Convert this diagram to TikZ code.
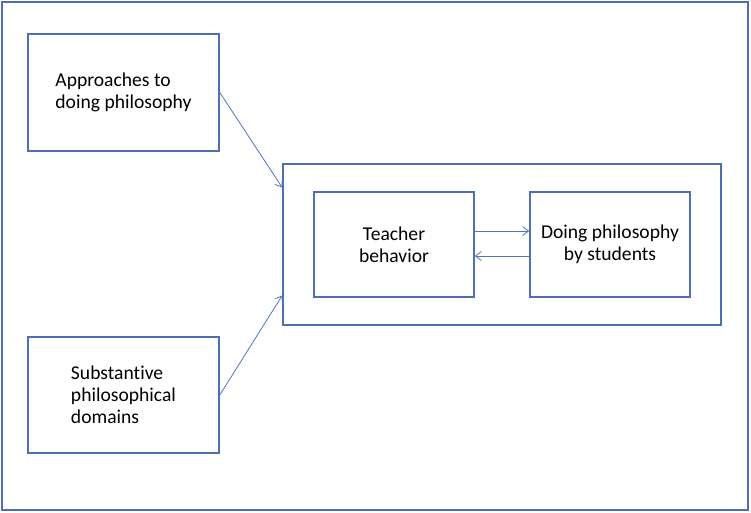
\documentclass[tikz,border=0pt]{standalone}
\usepackage{fontspec}
\setmainfont{Carlito}[Ligatures={NoCommon}]
\usetikzlibrary{arrows.meta}
\definecolor{frameblue}{RGB}{79,111,178}
\definecolor{arrowblue}{RGB}{79,119,189}
\tikzset{
  box/.style={draw=frameblue, line width=1.6pt, rectangle, inner sep=0pt,
    font=\fontsize{19.6}{22}\selectfont},
  link/.style={draw=arrowblue, line width=0.8pt, -{Straight Barb[length=6pt,width=9pt]}}
}
\begin{document}
\begin{tikzpicture}[x=1pt,y=-1pt]
\useasboundingbox (0,0) rectangle (751,513);
\fill[white] (0,0) rectangle (751,513);
\node[box, minimum width=746pt, minimum height=508pt] (frame) at (375,256) {};
\node[box, minimum width=191pt, minimum height=117pt, align=left] (approaches) at (123.5,92.5) {Approaches to\\doing philosophy};
\node[box, minimum width=191pt, minimum height=116pt, align=left] (domains) at (123.5,395) {Substantive\\philosophical\\domains};
\node[box, minimum width=438pt, minimum height=161pt] (context) at (502,244.5) {};
\node[box, minimum width=160pt, minimum height=105pt, align=center] (teacher) at (394,244.5) {Teacher\\behavior};
\node[box, minimum width=160pt, minimum height=105pt, align=center] (doing) at (610,244.5) {Doing philosophy\\by students};
% arrows
\draw[link] (approaches.east) -- ([yshift=57pt]context.west);
\draw[link] (domains.east) -- ([yshift=-51pt]context.west);
\draw[link] ([yshift=13.5pt]teacher.east) -- ([yshift=13.5pt]doing.west);
\draw[link] ([yshift=-11.5pt]doing.west) -- ([yshift=-11.5pt]teacher.east);
\end{tikzpicture}
\end{document}
